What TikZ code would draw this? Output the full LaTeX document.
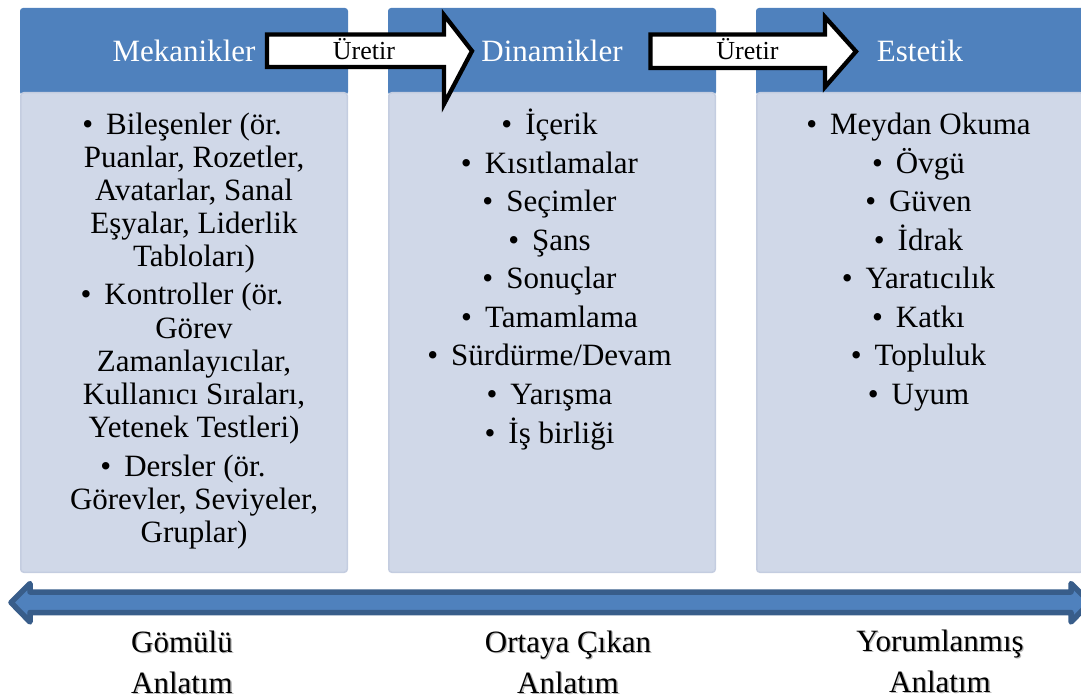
\documentclass[tikz,border=0pt]{standalone}
\usepackage{fontspec}
\setmainfont{Liberation Serif}
\newfontfamily\diagserif{Liberation Serif}
\definecolor{hdrblue}{HTML}{4F81BD}
\definecolor{bodyfill}{HTML}{D0D8E8}
\definecolor{bodyedge}{HTML}{C4CDE0}
\definecolor{baredge}{HTML}{385D8A}
\newcommand\itembullet{\textbullet\hspace{0.42em}}
\newcommand\softshadow[1]{\makebox[0pt][l]{\kern1.3pt\raisebox{-1.3pt}{\color{black!28}#1}}#1}
\begin{document}
\begin{tikzpicture}[x=1pt,y=-1pt,
  hdr/.style={fill=hdrblue, rounded corners=3pt, inner sep=0pt, outer sep=0pt,
    minimum width=328pt, text height=54pt, text depth=33pt, text=white,
    anchor=base, font=\diagserif\fontsize{31}{37}\selectfont},
  bodybox/.style={fill=bodyfill, draw=bodyedge, line width=1.5pt, rounded corners=3pt,
    inner sep=0pt, minimum width=326.5pt, minimum height=479.5pt},
  listline/.style={anchor=base, inner sep=0pt, text=black,
    font=\diagserif\fontsize{31}{37}\selectfont},
  genarrow/.style={draw=black, fill=white, line width=4.3pt, line join=miter},
  gentext/.style={anchor=base, inner sep=0pt, text=black,
    font=\diagserif\fontsize{26}{30}\selectfont},
  bigarrow/.style={fill=hdrblue, draw=baredge, line width=5.5pt, line join=round},
  footlabel/.style={anchor=base, inner sep=0pt, text=black,
    font=\diagserif\fontsize{31}{37}\selectfont}]

\useasboundingbox (0,0) rectangle (1081,700);
\clip (0,0) rectangle (1081,700);

% column headers
\node[hdr] (h1) at (184,62) {Mekanikler};
\node[hdr] (h2) at (552,62) {Dinamikler};
\node[hdr] (h3) at (920,62) {Estetik};

% column bodies
\node[bodybox] (b1) at (184,332.5) {};
\node[bodybox] (b2) at (552,332.5) {};
\node[bodybox] (b3) at (920,332.5) {};

% "Üretir" block arrows between the headers
\draw[genarrow] (267,34.5) -- (444,34.5) -- (444,15) -- (472,51) -- (444,104)
  -- (444,67) -- (267,67) -- cycle;
\node[gentext] (g1) at (364,60) {Üretir};
\draw[genarrow] (650.5,34.5) -- (825,34.5) -- (825,17) -- (856,51.5) -- (825,87)
  -- (825,68) -- (650.5,68) -- cycle;
\node[gentext] (g2) at (747.5,60) {Üretir};

% Mekanikler items
\node[listline] (m1)  at (182,135) {\itembullet Bileşenler (ör.};
\node[listline] (m2)  at (194,168) {Puanlar, Rozetler,};
\node[listline] (m3)  at (194,201) {Avatarlar, Sanal};
\node[listline] (m4)  at (194,234) {Eşyalar, Liderlik};
\node[listline] (m5)  at (194,267) {Tabloları)};
\node[listline] (m6)  at (182,305) {\itembullet Kontroller (ör.};
\node[listline] (m7)  at (194,338) {Görev};
\node[listline] (m8)  at (194,371) {Zamanlayıcılar,};
\node[listline] (m9)  at (194,404) {Kullanıcı Sıraları,};
\node[listline] (m10) at (194,437) {Yetenek Testleri)};
\node[listline] (m11) at (183,476) {\itembullet Dersler (ör.};
\node[listline] (m12) at (194,509) {Görevler, Seviyeler,};
\node[listline] (m13) at (194,542) {Gruplar)};

% Dinamikler items
\node[listline] (d1) at (549.5,135)   {\itembullet İçerik};
\node[listline] (d2) at (549.5,173.5) {\itembullet Kısıtlamalar};
\node[listline] (d3) at (549.5,212)   {\itembullet Seçimler};
\node[listline] (d4) at (549.5,250.5) {\itembullet Şans};
\node[listline] (d5) at (549.5,289)   {\itembullet Sonuçlar};
\node[listline] (d6) at (549.5,327.5) {\itembullet Tamamlama};
\node[listline] (d7) at (549.5,366)   {\itembullet Sürdürme/Devam};
\node[listline] (d8) at (549.5,404.5) {\itembullet Yarışma};
\node[listline] (d9) at (549.5,443)   {\itembullet İş birliği};

% Estetik items
\node[listline] (e1) at (918.5,135)   {\itembullet Meydan Okuma};
\node[listline] (e2) at (918.5,173.5) {\itembullet Övgü};
\node[listline] (e3) at (918.5,212)   {\itembullet Güven};
\node[listline] (e4) at (918.5,250.5) {\itembullet İdrak};
\node[listline] (e5) at (918.5,289)   {\itembullet Yaratıcılık};
\node[listline] (e6) at (918.5,327.5) {\itembullet Katkı};
\node[listline] (e7) at (918.5,366)   {\itembullet Topluluk};
\node[listline] (e8) at (918.5,404.5) {\itembullet Uyum};

% double-headed bar along the bottom
\draw[bigarrow] (11,602.5) -- (30,583.5) -- (30,592) -- (1071,592) -- (1071,583.5)
  -- (1090,602.5) -- (1071,622) -- (1071,612.5) -- (30,612.5) -- (30,622) -- cycle;

% narrative labels
\node[footlabel] (n1a) at (182,652) {\softshadow{Gömülü}};
\node[footlabel] (n1b) at (182,693) {\softshadow{Anlatım}};
\node[footlabel] (n2a) at (568,652) {\softshadow{Ortaya Çıkan}};
\node[footlabel] (n2b) at (568,693) {\softshadow{Anlatım}};
\node[footlabel] (n3a) at (940,651) {\softshadow{Yorumlanmış}};
\node[footlabel] (n3b) at (940,692) {\softshadow{Anlatım}};
\end{tikzpicture}
\end{document}
